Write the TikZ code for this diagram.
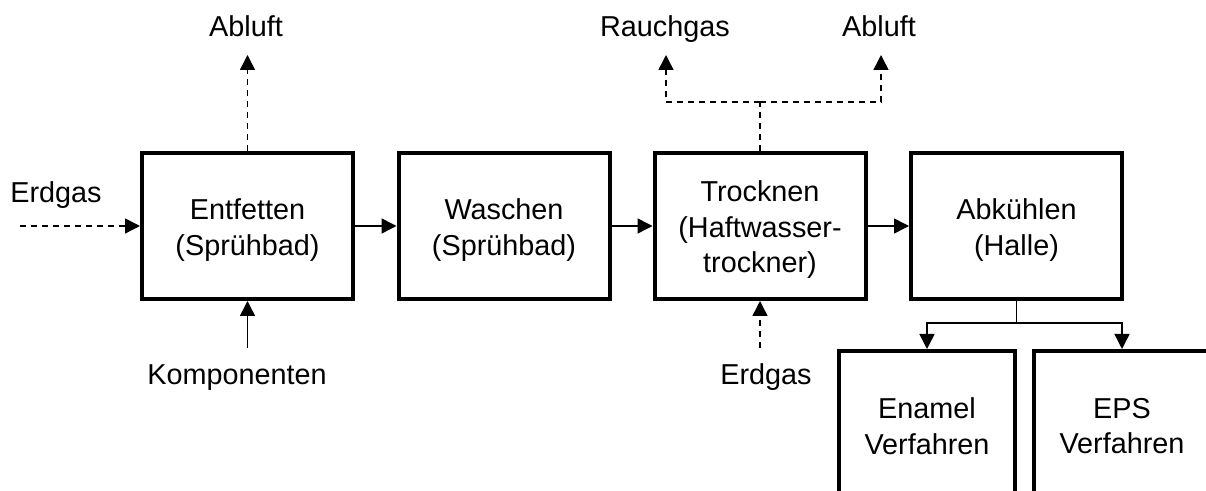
\documentclass[tikz,border=0pt]{standalone}
\usepackage{fontspec}
\setmainfont{Liberation Sans}
\usetikzlibrary{arrows.meta}
\begin{document}
\begin{tikzpicture}[x=0.5pt,y=-0.5pt,
  box/.style={draw, line width=2pt, minimum width=105.5pt, minimum height=73pt, inner sep=0pt},
  boxtxt/.style={align=center, inner sep=0pt, font=\fontsize{14.4}{17.75}\selectfont},
  lbl/.style={font=\fontsize{14.4}{17.75}\selectfont, inner sep=0pt, anchor=base},
  flow/.style={line width=0.75pt, -{Triangle[length=7.5pt,width=7.5pt]}},
  gas/.style={flow, dash pattern=on 3pt off 2.5pt}]
\clip (0,0) rectangle (1206,491);
% process boxes
\node[box] (b1) at (247.5,226) {};
\node[box] (b2) at (504,226) {};
\node[box] (b3) at (760,226) {};
\node[box] (b4) at (1016.5,226) {};
\node[box, minimum width=88pt] (b5) at (927,424) {};
\node[box, minimum width=88pt] (b6) at (1122,424) {};
\node[boxtxt] (t1x) at ([yshift=-2pt]b1.center) {Entfetten\\(Sprühbad)};
\node[boxtxt] (t2x) at ([yshift=-2pt]b2.center) {Waschen\\(Sprühbad)};
\node[boxtxt] (t3x) at ([yshift=-2pt]b3.center) {Trocknen\\(Haftwasser-\\trockner)};
\node[boxtxt] (t4x) at ([yshift=-2pt]b4.center) {Abkühlen\\(Halle)};
\node[boxtxt] (t5x) at ([yshift=-1pt]b5.center) {Enamel\\Verfahren};
\node[boxtxt] (t6x) at ([yshift=-1pt]b6.center) {EPS\\Verfahren};
% labels
\node[lbl] (abl1) at (246,37) {Abluft};
\node[lbl] (rauch) at (665,37) {Rauchgas};
\node[lbl] (abl2) at (879,37) {Abluft};
\node[lbl] (erd1) at (56,203) {Erdgas};
\node[lbl] (komp) at (237,385) {Komponenten};
\node[lbl] (erd2) at (766,385) {Erdgas};
% helper coordinates
\coordinate (a1) at (247.5,55);
\coordinate (e1) at (20,226);
\coordinate (k1) at (247.5,348);
\coordinate (e2) at (760,348);
\coordinate (t1) at (760,102);
\coordinate (rl) at (666,102);
\coordinate (rr) at (881,102);
\coordinate (rlt) at (666,55);
\coordinate (rrt) at (881,55);
\coordinate (s1) at (1016.5,323);
\coordinate (sl) at (927,323);
\coordinate (sr) at (1122,323);
% connectors
\draw[gas] (b1.north) -- (a1);
\draw[gas] (e1) -- (b1.west);
\draw[flow] (k1) -- (b1.south);
\draw[flow] (b1.east) -- (b2.west);
\draw[flow] (b2.east) -- (b3.west);
\draw[flow] (b3.east) -- (b4.west);
\draw[gas] (e2) -- (b3.south);
\draw[line width=0.75pt, dash pattern=on 3pt off 2.5pt] (b3.north) -- (t1);
\draw[gas] (t1) -- (rl) -- (rlt);
\draw[gas] (t1) -- (rr) -- (rrt);
\draw[line width=0.75pt] (b4.south) -- (s1);
\draw[flow] (s1) -- (sl) -- (b5.north);
\draw[flow] (s1) -- (sr) -- (b6.north);
\end{tikzpicture}
\end{document}
